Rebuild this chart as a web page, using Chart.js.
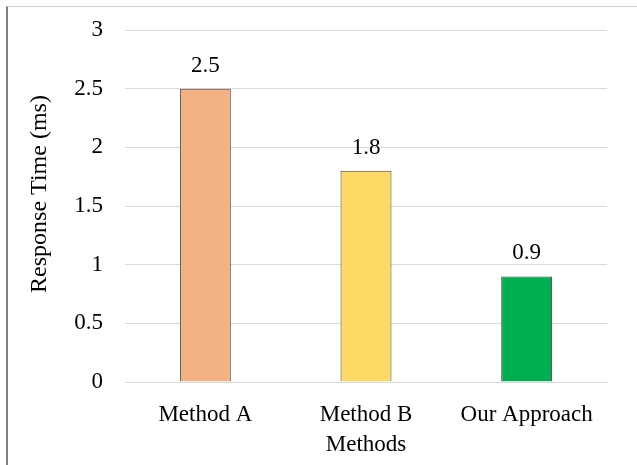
<!DOCTYPE html>
<html><head><meta charset="utf-8">
<script src="https://cdn.jsdelivr.net/npm/chart.js@4"></script>
<style>
html,body{margin:0;padding:0;background:#fff;}
#wrap{position:absolute;left:6px;top:6px;width:631px;height:459px;border-left:2px solid #808080;border-top:1px solid #d0d0d0;box-sizing:border-box;}
#c{position:absolute;left:0;top:0;}
</style></head><body>
<div id="wrap"></div>
<canvas id="c" width="637" height="465"></canvas>
<script>
const categories = ["Method A", "Method B", "Our Approach"];
const responseTimes = [2.5, 1.8, 0.9];
const barColors = ["#F4B183", "#FFD966", "#00B050"];
const yTicks = [0, 0.5, 1, 1.5, 2, 2.5, 3];
const xTitle = "Methods";
const yTitle = "Response Time (ms)";

const FAMILY = "'Liberation Serif', 'Times New Roman', serif";
const FS = 23;

const labelPlugin = {
  id: 'valueLabels',
  afterDatasetsDraw(chart) {
    const ctx = chart.ctx;
    const meta = chart.getDatasetMeta(0);
    ctx.save();
    ctx.font = FS + 'px ' + FAMILY;
    ctx.fillStyle = '#000';
    ctx.textAlign = 'center';
    ctx.textBaseline = 'alphabetic';
    meta.data.forEach((bar, i) => {
      ctx.fillText(String(responseTimes[i]), bar.x, bar.y - 17);
    });
    const ca = chart.chartArea;
    ctx.font = '24px ' + FAMILY;
    ctx.translate(46, (ca.top + ca.bottom) / 2 - 12);
    ctx.rotate(-Math.PI / 2);
    ctx.fillText(yTitle, 0, 0);
    ctx.restore();
  }
};

function draw() {
  Chart.defaults.font.family = FAMILY;
  Chart.defaults.color = '#000';
  new Chart(document.getElementById('c'), {
    type: 'bar',
    data: {
      labels: categories,
      datasets: [{
        data: responseTimes,
        backgroundColor: barColors,
        borderColor: '#404040',
        borderWidth: 1,
        barPercentage: 0.317,
        categoryPercentage: 1
      }]
    },
    options: {
      responsive: false,
      animation: false,
      layout: { padding: { left: 0, right: 30, top: 30, bottom: 0 } },
      plugins: { legend: { display: false }, tooltip: { enabled: false } },
      scales: {
        x: {
          grid: { display: false },
          border: { color: '#d9d9d9', width: 1 },
          ticks: { font: { size: FS, family: FAMILY }, padding: 11, maxRotation: 0 },
          title: { display: true, text: xTitle, font: { size: FS, family: FAMILY }, padding: { top: 0, bottom: 6 } },
          afterFit(axis) { axis.height = 83; }
        },
        y: {
          min: 0, max: 3,
          afterBuildTicks(axis) { axis.ticks = yTicks.map(v => ({ value: v })); },
          grid: { color: '#d9d9d9', drawTicks: false },
          border: { display: false },
          ticks: { font: { size: FS, family: FAMILY }, padding: 22, callback: v => String(v) },
          afterFit(axis) { axis.width = 125; axis.paddingTop = 0; axis.paddingBottom = 0; }
        }
      }
    },
    plugins: [labelPlugin]
  });
}
if (document.fonts && document.fonts.load) {
  document.fonts.load(FS + "px 'Liberation Serif'").then(draw, draw);
} else { draw(); }
</script>
</body></html>
